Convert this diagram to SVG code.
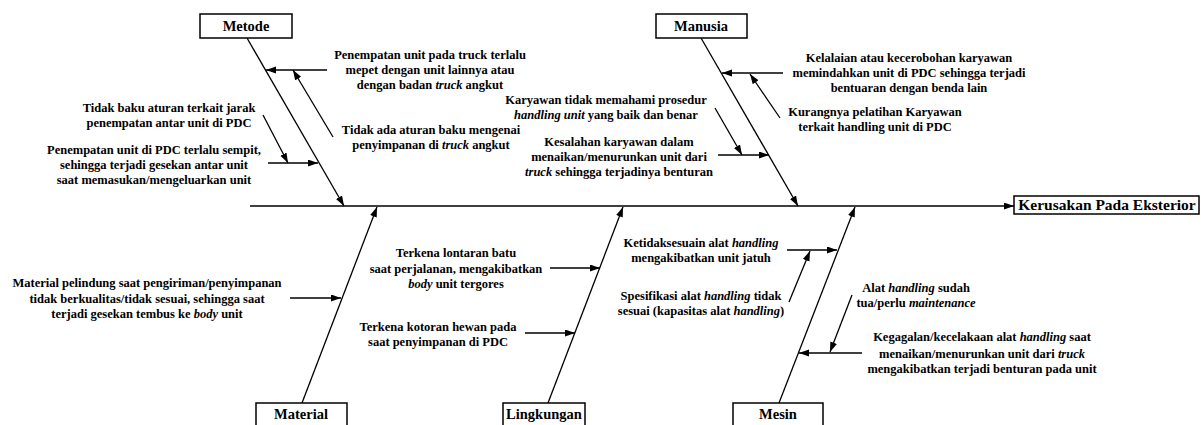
<svg xmlns="http://www.w3.org/2000/svg" width="1201" height="425" viewBox="0 0 1201 425">
<defs>
<marker id="ah" markerUnits="userSpaceOnUse" markerWidth="11" markerHeight="8" refX="10" refY="3.5" orient="auto">
<path d="M0,0 L10,3.5 L0,7 z" fill="#000"/>
</marker>
<style>
.t{font-family:"Liberation Serif","Times New Roman",serif;font-weight:bold;font-size:12.5px;fill:#000;text-anchor:middle}
.h{font-family:"Liberation Serif","Times New Roman",serif;font-weight:bold;font-size:14.5px;fill:#000;text-anchor:middle}
.e{font-family:"Liberation Serif","Times New Roman",serif;font-weight:bold;font-size:15.5px;fill:#000;text-anchor:middle}
.box{fill:#fff;stroke:#000;stroke-width:1.5}
.ln{stroke:#000;stroke-width:1.3;fill:none}
.ar{stroke:#000;stroke-width:1.3;fill:none;marker-end:url(#ah)}
.i{font-style:italic}
</style>
</defs>
<rect width="1201" height="425" fill="#fff"/>
<g id="connectors">
<line class="ar" x1="250" y1="206" x2="1014" y2="206"/>
<line class="ar" x1="247" y1="38" x2="344" y2="206"/>
<line class="ar" x1="701" y1="38" x2="798" y2="206"/>
<line class="ar" x1="302" y1="403" x2="377" y2="207"/>
<line class="ar" x1="548" y1="403" x2="623" y2="207"/>
<line class="ar" x1="779" y1="403" x2="855" y2="207"/>
<line class="ar" x1="327" y1="70" x2="266" y2="70"/>
<line class="ar" x1="333" y1="137" x2="293" y2="70"/>
<line class="ar" x1="263" y1="115" x2="288" y2="163"/>
<line class="ar" x1="268" y1="163" x2="318" y2="163"/>
<line class="ar" x1="783" y1="73" x2="722" y2="73"/>
<line class="ar" x1="780" y1="118" x2="750" y2="74"/>
<line class="ar" x1="715" y1="108" x2="742" y2="155"/>
<line class="ar" x1="718" y1="155" x2="769" y2="155"/>
<line class="ar" x1="290" y1="298" x2="341" y2="298"/>
<line class="ar" x1="550" y1="268" x2="600" y2="268"/>
<line class="ar" x1="525" y1="333" x2="575" y2="333"/>
<line class="ar" x1="787" y1="250" x2="837" y2="250"/>
<line class="ar" x1="789" y1="302" x2="810" y2="251"/>
<line class="ar" x1="852" y1="295" x2="830" y2="352"/>
<line class="ar" x1="862" y1="353" x2="799" y2="353"/>
</g>
<g id="effect">
<rect class="box" x="1014" y="196" width="185" height="18"/>
<text class="e" x="1107" y="210">Kerusakan Pada Eksterior</text>
</g>
<g id="metode">
<rect class="box" x="200" y="14" width="92" height="24"/>
<text class="h" x="246" y="31">Metode</text>
</g>
<g id="manusia">
<rect class="box" x="656" y="14" width="91" height="24"/>
<text class="h" x="701" y="31">Manusia</text>
</g>
<g id="material">
<rect class="box" x="256" y="403" width="91" height="30"/>
<text class="h" x="301" y="419">Material</text>
</g>
<g id="lingkungan">
<rect class="box" x="503" y="403" width="82" height="30"/>
<text class="h" x="544" y="419">Lingkungan</text>
</g>
<g id="mesin">
<rect class="box" x="733" y="403" width="90" height="30"/>
<text class="h" x="778" y="419">Mesin</text>
</g>
<g id="metode-causes">
<text class="t" x="430" y="59">Penempatan unit pada truck terlalu</text>
<text class="t" x="430" y="74">mepet dengan unit lainnya atau</text>
<text class="t" x="430" y="89">dengan badan <tspan class="i">truck</tspan> angkut</text>
<text class="t" x="431" y="134">Tidak ada aturan baku mengenai</text>
<text class="t" x="431" y="149">penyimpanan di <tspan class="i">truck</tspan> angkut</text>
<text class="t" x="169" y="112">Tidak baku aturan terkait jarak</text>
<text class="t" x="169" y="127">penempatan antar unit di PDC</text>
<text class="t" x="154" y="154">Penempatan unit di PDC terlalu sempit,</text>
<text class="t" x="154" y="169">sehingga terjadi gesekan antar unit</text>
<text class="t" x="154" y="184">saat memasukan/mengeluarkan unit</text>
</g>
<g id="manusia-causes">
<text class="t" x="909" y="62">Kelalaian atau kecerobohan karyawan</text>
<text class="t" x="909" y="77">memindahkan unit di PDC sehingga terjadi</text>
<text class="t" x="909" y="92">bentuaran dengan benda lain</text>
<text class="t" x="875" y="116">Kurangnya pelatihan Karyawan</text>
<text class="t" x="875" y="131">terkait handling unit di PDC</text>
<text class="t" x="606" y="104">Karyawan tidak memahami prosedur</text>
<text class="t" x="606" y="119"><tspan class="i">handling unit</tspan> yang baik dan benar</text>
<text class="t" x="619" y="146">Kesalahan karyawan dalam</text>
<text class="t" x="619" y="161">menaikan/menurunkan unit dari</text>
<text class="t" x="619" y="176"><tspan class="i">truck</tspan> sehingga terjadinya benturan</text>
</g>
<g id="material-causes">
<text class="t" x="147" y="287">Material pelindung saat pengiriman/penyimpanan</text>
<text class="t" x="147" y="303">tidak berkualitas/tidak sesuai, sehingga saat</text>
<text class="t" x="147" y="318">terjadi gesekan tembus ke <tspan class="i">body</tspan> unit</text>
</g>
<g id="lingkungan-causes">
<text class="t" x="456" y="257">Terkena lontaran batu</text>
<text class="t" x="456" y="273">saat perjalanan, mengakibatkan</text>
<text class="t" x="456" y="288"><tspan class="i">body</tspan> unit tergores</text>
<text class="t" x="438" y="331">Terkena kotoran hewan pada</text>
<text class="t" x="438" y="346">saat penyimpanan di PDC</text>
</g>
<g id="mesin-causes">
<text class="t" x="701" y="247">Ketidaksesuain alat <tspan class="i">handling</tspan></text>
<text class="t" x="701" y="262">mengakibatkan unit jatuh</text>
<text class="t" x="701" y="300">Spesifikasi alat <tspan class="i">handling</tspan> tidak</text>
<text class="t" x="701" y="315">sesuai (kapasitas alat <tspan class="i">handling</tspan>)</text>
<text class="t" x="916" y="292">Alat <tspan class="i">handling</tspan> sudah</text>
<text class="t" x="916" y="307">tua/perlu <tspan class="i">maintenance</tspan></text>
<text class="t" x="982" y="341">Kegagalan/kecelakaan alat <tspan class="i">handling</tspan> saat</text>
<text class="t" x="982" y="358">menaikan/menurunkan unit dari <tspan class="i">truck</tspan></text>
<text class="t" x="982" y="373">mengakibatkan terjadi benturan pada unit</text>
</g>
</svg>
